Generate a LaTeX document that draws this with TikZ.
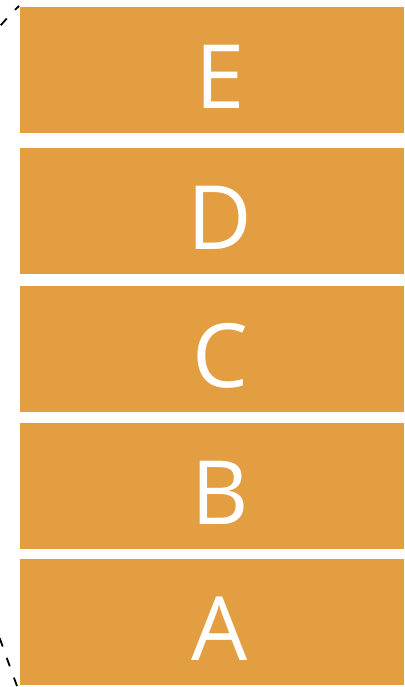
\documentclass[tikz,border=0pt]{standalone}
\usepackage{fontspec}
\setsansfont{Open Sans}
\usepackage{tikz}
\usetikzlibrary{positioning}

\definecolor{slaborange}{HTML}{E39E41}

\begin{document}
\begin{tikzpicture}[
    x=1bp, y=-1bp,
    slab/.style={fill=slaborange, draw=none, minimum width=384bp, minimum height=126bp, inner sep=0pt},
    letter/.style={text=white, inner sep=0pt, anchor=base, font=\sffamily\fontsize{89}{89}\selectfont},
    guide/.style={dashed, dash pattern=on 9bp off 12bp, dash phase=3.5bp, line width=1.8bp}
]
\useasboundingbox (0,0) rectangle (404,687);
\clip (0,0) rectangle (404,687);

% stacked slabs, top to bottom
\foreach \name/\cy in {E/70, D/211, C/349, B/486, A/622} {
    \node[slab] (\name) at (212,\cy) {};
    \node[letter] (\name-text) at ([xshift=8bp, yshift=25bp]\name.south) {\name};
}

% dashed outline at the left
\coordinate (top) at (19,6);
\coordinate (bottom) at (17,686);
\draw[guide] (top) .. controls (-150,170) and (-70,450) .. (bottom);
\end{tikzpicture}
\end{document}
